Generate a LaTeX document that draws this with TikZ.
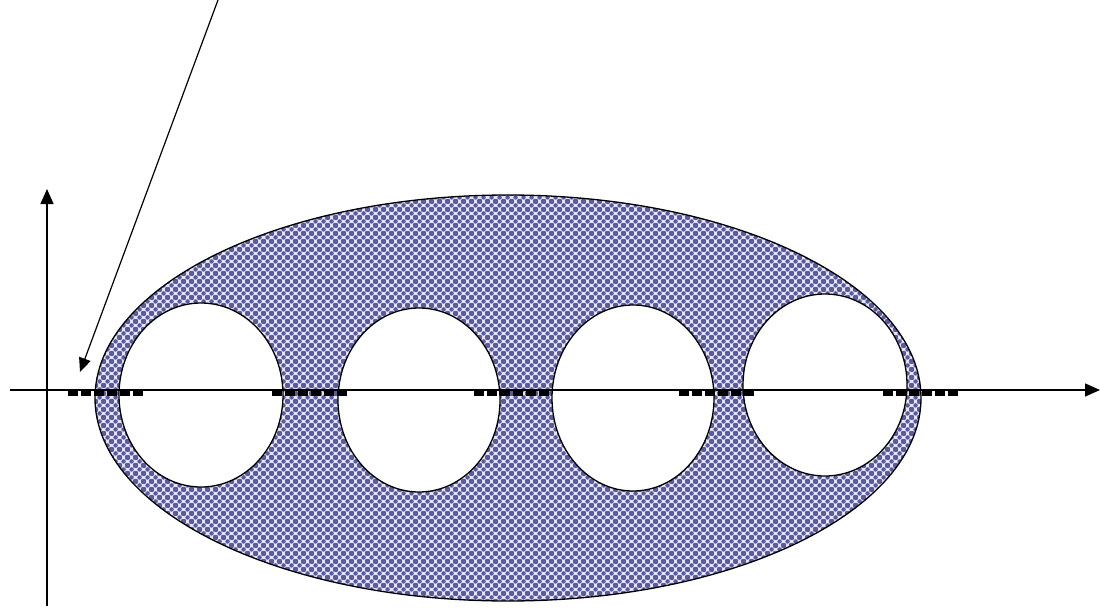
\documentclass[tikz,border=0pt]{standalone}
\usepackage{tikz}
\usetikzlibrary{arrows.meta,patterns}
\definecolor{dotblue}{RGB}{90,90,160}
\definecolor{dotpale}{RGB}{232,232,245}
\pgfdeclarepatternformonly{bubbles}{\pgfpointorigin}{\pgfpoint{8pt}{8pt}}{\pgfpoint{8pt}{8pt}}{%
  \pgfpathcircle{\pgfpoint{0pt}{0pt}}{2.5pt}%
  \pgfpathcircle{\pgfpoint{8pt}{0pt}}{2.5pt}%
  \pgfpathcircle{\pgfpoint{0pt}{8pt}}{2.5pt}%
  \pgfpathcircle{\pgfpoint{8pt}{8pt}}{2.5pt}%
  \pgfpathcircle{\pgfpoint{4pt}{4pt}}{2.5pt}%
  \pgfusepath{fill}}
\tikzset{
  axisline/.style={line width=1.6pt, -{Triangle[length=15pt,width=13pt]}},
  cutmark/.style={line width=5pt, dash pattern=on 10pt off 3pt},
  hole/.style={fill=white, draw=black, line width=1.3pt}
}
\begin{document}
\begin{tikzpicture}[x=1pt, y=-1pt, >=Latex]
    \useasboundingbox (0,0) rectangle (1100,608);
    % body with pattern
    \fill[dotpale] (508,398) ellipse [x radius=413, y radius=203];
    \fill[pattern=bubbles, pattern color=dotblue] (508,398) ellipse [x radius=413, y radius=203];
    \draw[line width=1.3pt] (508,398) ellipse [x radius=413, y radius=203];
    % holes
    \foreach \cx/\cy/\rx/\ry in {201/395/82/92, 419/400/81/92, 633/398/81/93, 825/385/82/91} {
        \draw[hole] (\cx,\cy) ellipse [x radius=\rx, y radius=\ry];
    }
    % axes
    \draw[axisline] (47,606) -- (47,189);
    \draw[axisline] (10,390) -- (1100,390);
    % marks on the axis
    \foreach \mx in {106, 310, 512, 717, 921} {
        \draw[cutmark] (\mx-38,393) -- (\mx+39,393);
    }
    % pointer
    \draw[line width=1.2pt, -{Triangle[length=14pt,width=12pt]}] (218,0) -- (80,372);
\end{tikzpicture}
\end{document}
